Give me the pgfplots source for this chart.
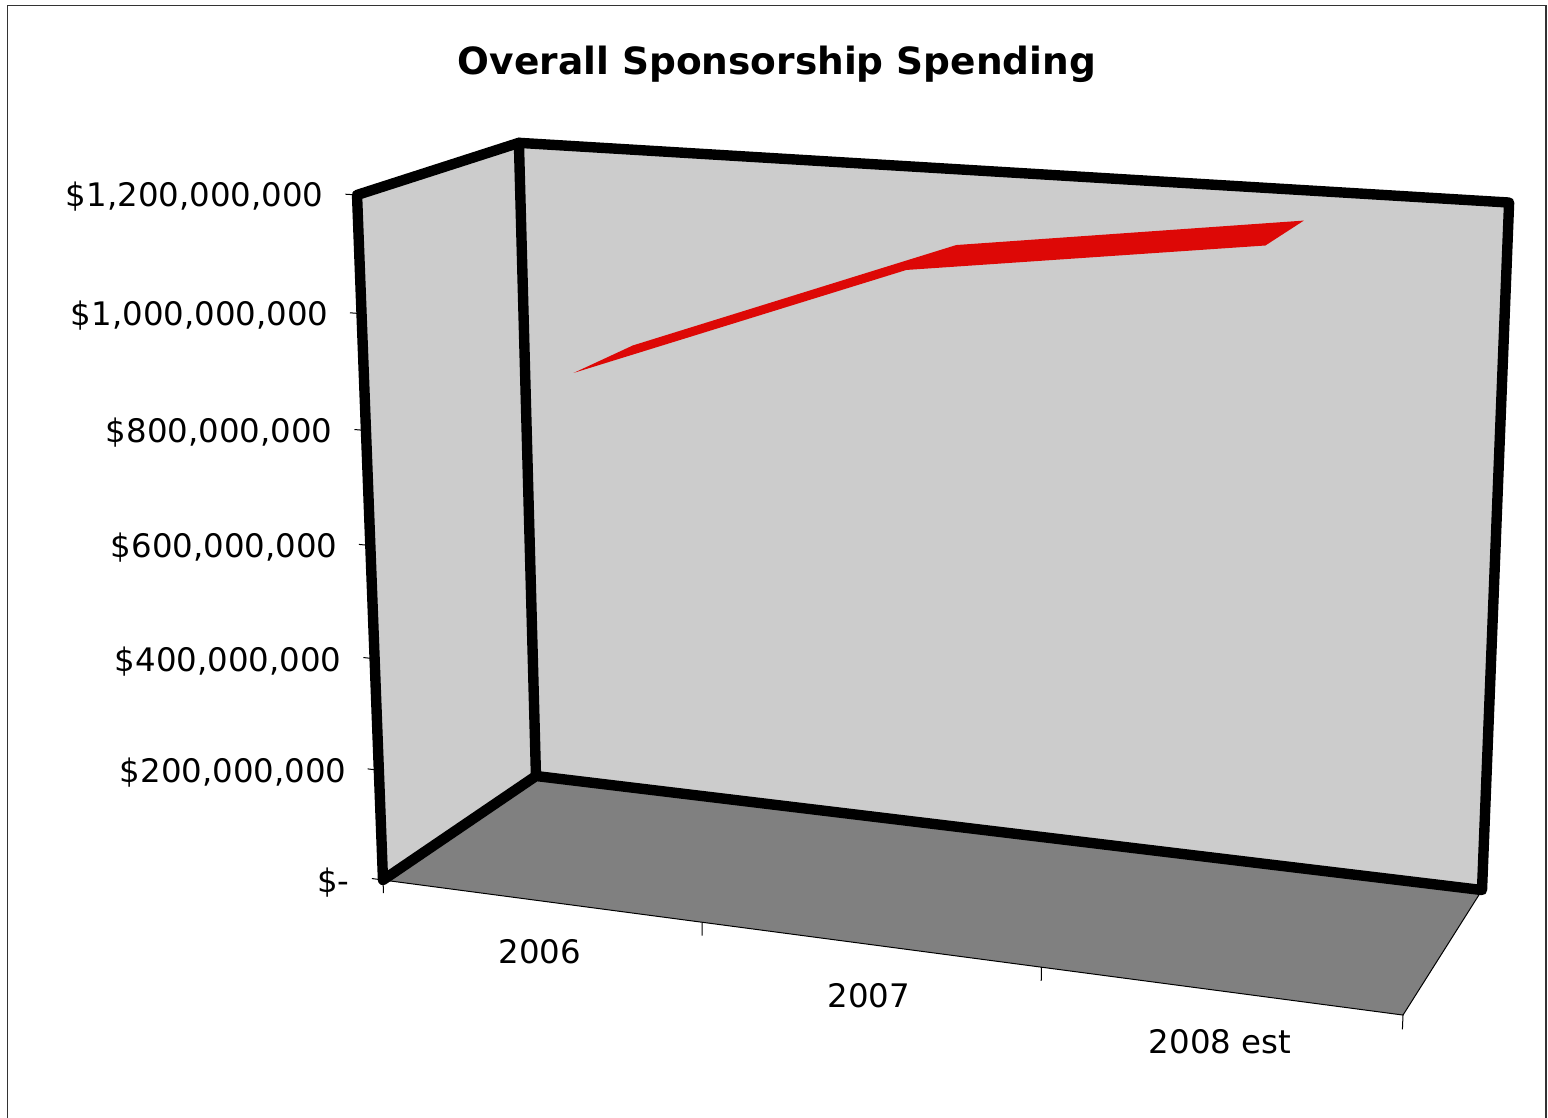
\documentclass[border=0pt]{standalone}
\usepackage{fontspec}
\setmainfont{DejaVu Sans}
\usepackage{pgfplots}
\pgfplotsset{compat=1.18}
\definecolor{wallgray}{HTML}{CCCCCC}
\definecolor{floorgray}{HTML}{808080}
\definecolor{linered}{HTML}{DD0806}

% Perspective projection of (category position, depth 0..1, value in $ millions)
% onto drawing coordinates.
\newcommand\Wt{(1-0.0898*\thisrow{c}/3+0.0857*\thisrow{d}-0.046*\thisrow{v}/1200)}
\newcommand\Px{((383+894.0*\thisrow{c}/3+198.9*\thisrow{d}-42.4*\thisrow{v}/1200)/\Wt)}
\newcommand\Py{((880+43.9*\thisrow{c}/3-37.5*\thisrow{d}-694.0*\thisrow{v}/1200)/\Wt)}
\pgfplotsset{/pgfplots/table/chart3d/.style={x expr=\Px, y expr=\Py}}

\begin{document}
\begin{tikzpicture}
\path[use as bounding box] (0,0) rectangle (774pt,559pt);
\begin{axis}[
  at={(0,0)}, anchor=south west,
  scale only axis, width=774pt, height=559pt,
  xmin=0, xmax=1548, ymin=0, ymax=1118, y dir=reverse,
  hide axis, clip=true,
]
% left wall, back wall, floor
\addplot[fill=wallgray, draw=none] table[chart3d] {
c d v
0 0 0
0 1 0
0 1 1200
0 0 1200
};
\addplot[fill=wallgray, draw=none] table[chart3d] {
c d v
0 1 0
3 1 0
3 1 1200
0 1 1200
};
\addplot[fill=floorgray, draw=black, line width=0.5pt] table[chart3d] {
c d v
0 0 0
3 0 0
3 1 0
0 1 0
0 0 0
};
% spending ribbon: 2006, 2007, 2008 est at front and back depth
\addplot[fill=linered, draw=none] table[chart3d] {
c d v
0.5 0.30 885
1.5 0.30 1102
2.5 0.30 1181
2.5 0.70 1181
1.5 0.70 1102
0.5 0.70 885
};
% wall outlines
\addplot[black, line width=5.2pt, line join=round, line cap=round] table[chart3d] {
c d v
0 0 1200
0 0 0
0 1 0
3 1 0
3 1 1200
0 1 1200
0 0 1200
};
\addplot[black, line width=5.2pt, line cap=round] table[chart3d] {
c d v
0 1 0
0 1 1200
};
% value-axis and category-axis ticks
\addplot[black, line width=0.5pt, unbounded coords=jump] table[chart3d, empty line=jump] {
c d v
-0.036 0 0
0 0 0

-0.036 0 200
0 0 200

-0.036 0 400
0 0 400

-0.036 0 600
0 0 600

-0.036 0 800
0 0 800

-0.036 0 1000
0 0 1000

-0.036 0 1200
0 0 1200

0 0 0
0 0 -24

1 0 0
1 0 -24

2 0 0
2 0 -24

3 0 0
3 0 -24
};
% frame around the chart area (open at the bottom edge)
\draw[black!80, line width=0.6pt] (axis cs:7.5,1118) -- (axis cs:7.5,5.5) -- (axis cs:1546,5.5) -- (axis cs:1546,1118);
% title and tick labels
\node[anchor=base, font=\bfseries\fontsize{18.75}{22}\selectfont] at (axis cs:777,75) {Overall Sponsorship Spending};
\tikzset{lab/.style={anchor=base east, font=\fontsize{16.2}{18}\selectfont, inner sep=0pt},
         cat/.style={anchor=base, font=\fontsize{16.2}{18}\selectfont, inner sep=0pt}}
\node[lab] at (axis cs:324,207) {\$1,200,000,000};
\node[lab] at (axis cs:329,326) {\$1,000,000,000};
\node[lab] at (axis cs:333,442) {\$800,000,000};
\node[lab] at (axis cs:338,557) {\$600,000,000};
\node[lab] at (axis cs:342,671) {\$400,000,000};
\node[lab] at (axis cs:347,782) {\$200,000,000};
\node[lab] at (axis cs:350,892) {\$-};
\node[cat] at (axis cs:540,963.5) {2006};
\node[cat] at (axis cs:869,1007.5) {2007};
\node[cat] at (axis cs:1220,1053.5) {2008 est};
\end{axis}
\end{tikzpicture}
\end{document}
